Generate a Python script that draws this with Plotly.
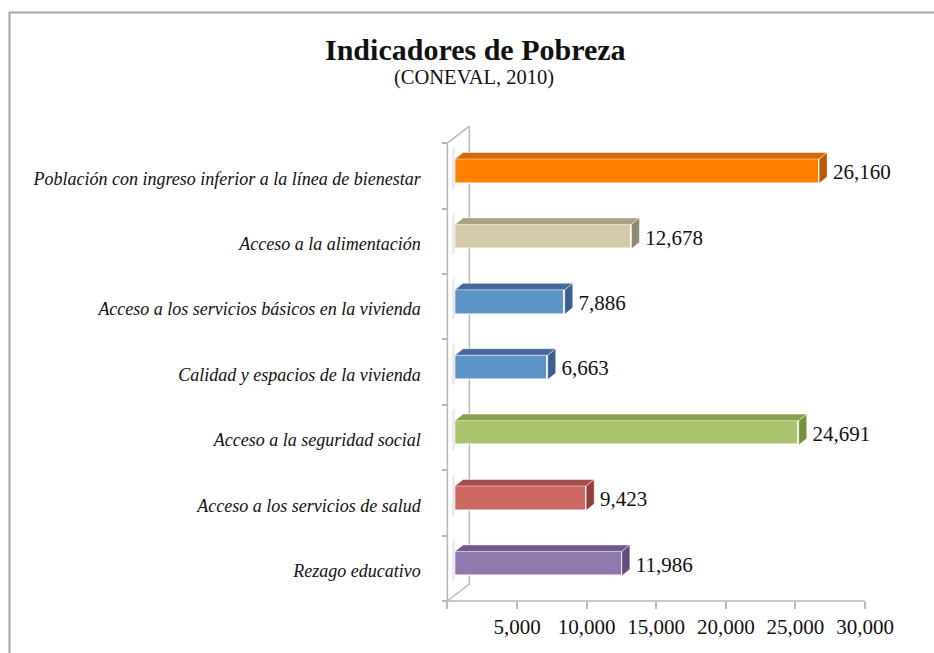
import plotly.graph_objects as go

# ---- data ----
categories = [
    "Rezago educativo",
    "Acceso a los servicios de salud",
    "Acceso a la seguridad social",
    "Calidad y espacios de la vivienda",
    "Acceso a los servicios básicos en la vivienda",
    "Acceso a la alimentación",
    "Población con ingreso inferior a la línea de bienestar",
]
values = [11986, 9423, 24691, 6663, 7886, 12678, 26160]
value_labels = ["11,986", "9,423", "24,691", "6,663", "7,886", "12,678", "26,160"]
front_colors = ["#9179B0", "#CC6660", "#A9C46C", "#5E95C9", "#5E95C9", "#D3CAA7", "#FF7F00"]
top_colors = ["#705A8E", "#A44F4A", "#88A04F", "#44699A", "#44699A", "#A9A285", "#D46A00"]
side_colors = ["#604B7E", "#923D39", "#76913E", "#3B5F8E", "#3B5F8E", "#8D896E", "#B85A00"]
x_tickvals = [0, 5000, 10000, 15000, 20000, 25000, 30000]
x_ticktext = ["", "5,000", "10,000", "15,000", "20,000", "25,000", "30,000"]

W, H = 934, 653
FONT = "Liberation Serif"
GRID = "#B8B8B8"

# geometry (in data units)
D = 546        # front-face offset from front axis
DX = 575       # bar depth in x
DY = 0.10      # bar depth in y
YC = 0.072     # front face center offset
HW = 0.186     # front face half height
WDX = 1580     # wall depth in x
WDY = 0.26     # wall depth in y
LBL_GAP = 420  # gap between bar and value label

fig = go.Figure()

n = len(categories)
for i in range(n):
    v = values[i]
    t = i + YC + HW
    b = i + YC - HW
    # soft shadow on the back wall (left of the bar)
    fig.add_trace(go.Scatter(
        x=[D - 220, D, D, D - 220, D - 220],
        y=[t + DY + 0.02, t + DY + 0.12, b - 0.06, b - 0.1, t + DY + 0.02],
        fill="toself", fillcolor="rgba(190,190,190,0.3)", mode="none",
        hoverinfo="skip", showlegend=False))
    # top face
    fig.add_trace(go.Scatter(
        x=[D, D + v, D + v + DX, D + DX, D],
        y=[t, t, t + DY, t + DY, t],
        fill="toself", fillcolor=top_colors[i], mode="lines",
        line=dict(color="rgba(255,255,255,0.6)", width=0.8),
        hoverinfo="skip", showlegend=False))
    # side face
    fig.add_trace(go.Scatter(
        x=[D + v, D + v, D + v + DX, D + v + DX, D + v],
        y=[b, t, t + DY, b + DY, b],
        fill="toself", fillcolor=side_colors[i], mode="lines",
        line=dict(color="rgba(255,255,255,0.6)", width=0.8),
        hoverinfo="skip", showlegend=False))

# front faces
fig.add_trace(go.Bar(
    x=values, y=[i + YC for i in range(n)], base=D, orientation="h",
    width=2 * HW, marker=dict(color=front_colors, line=dict(color="white", width=1.2)),
    hoverinfo="skip", showlegend=False))

# value labels
fig.add_trace(go.Scatter(
    x=[D + v + DX + LBL_GAP for v in values], y=[i + 0.03 for i in range(n)],
    mode="text", text=value_labels, textposition="middle right",
    textfont=dict(family=FONT, size=21, color="#111111"),
    cliponaxis=False, hoverinfo="skip", showlegend=False))

# walls
shapes = []
def seg(x0, y0, x1, y1):
    shapes.append(dict(type="line", xref="x", yref="y", x0=x0, y0=y0, x1=x1, y1=y1,
                       line=dict(color=GRID, width=1.5), layer="below"))
seg(0, -0.5, 0, n - 0.5)
seg(0, n - 0.5, WDX, n - 0.5 + WDY)
seg(WDX, -0.5 + WDY, WDX, n - 0.5 + WDY)
seg(0, -0.5, WDX, -0.5 + WDY)
seg(0, -0.5, 30000, -0.5)
# outer border
shapes.append(dict(type="rect", xref="paper", yref="paper",
                   x0=9.5 / W, y0=-0.05, x1=1.05, y1=1 - 12.5 / H,
                   line=dict(color="#A6A6A6", width=2)))

k = (865 - 447.4) / 30000.0
xmin = -1300
x_left_px = 447.4 + xmin * k
ymin, ymax = -0.6, 6.8
ypx = 65.4
y_bottom_px = 601 + (-0.5 - ymin) * ypx
y_top_px = 601 - (ymax + 0.5) * ypx

fig.update_layout(
    width=W, height=H,
    margin=dict(l=0, r=0, t=0, b=0),
    paper_bgcolor="white", plot_bgcolor="rgba(0,0,0,0)",
    shapes=shapes,
    bargap=0,
    xaxis=dict(
        domain=[x_left_px / W, 865 / W], range=[xmin, 30000],
        anchor="free", position=1 - 601 / H,
        tickvals=x_tickvals, ticktext=x_ticktext,
        ticks="outside", ticklen=7, tickcolor=GRID, tickwidth=1.5,
        showline=False, showgrid=False, zeroline=False,
        tickfont=dict(family=FONT, size=21, color="#111111"),
        automargin=False, fixedrange=True),
    yaxis=dict(
        domain=[1 - y_bottom_px / H, 1 - y_top_px / H], range=[ymin, ymax],
        anchor="free", position=447.4 / W,
        tickvals=[i - 0.035 for i in range(n)], ticktext=categories,
        ticks="outside", ticklen=0, ticklabelstandoff=23,
        minor=dict(tickvals=[i - 0.5 for i in range(n + 1)], ticks="outside",
                   ticklen=5, tickcolor=GRID, tickwidth=1.5, showgrid=False),
        showline=False, showgrid=False, zeroline=False,
        tickfont=dict(family=FONT, size=18, color="#111111", style="italic"),
        automargin=False, fixedrange=True),
    annotations=[
        dict(text="<b>Indicadores de Pobreza</b>", x=476 / W, y=1 - 50 / H,
             xref="paper", yref="paper", xanchor="center", yanchor="middle",
             showarrow=False, font=dict(family=FONT, size=30, color="#111111")),
        dict(text="(CONEVAL, 2010)", x=474 / W, y=1 - 77 / H,
             xref="paper", yref="paper", xanchor="center", yanchor="middle",
             showarrow=False, font=dict(family=FONT, size=20.5, color="#111111")),
    ],
)

fig.write_html("out.html", config={"displayModeBar": False},
               post_script="document.body.style.margin='0';")
